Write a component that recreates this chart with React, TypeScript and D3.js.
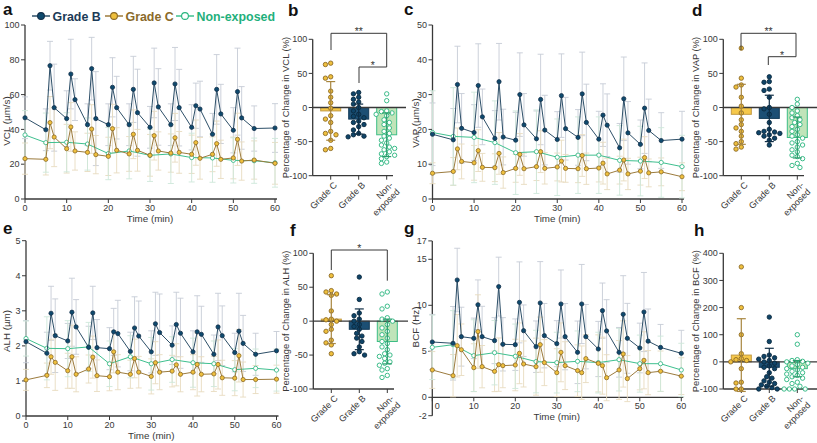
import React from "react";
import * as d3 from "d3";

// ---------- time-course data ----------
const times = [0, 5, 6, 7, 10, 11, 12, 15, 16, 17, 20, 21, 22, 25, 26, 27, 30, 31, 32, 35, 36, 37, 40, 41, 42, 45, 46, 47, 50, 51, 52, 55, 60];
const timesNE = [0, 5, 10, 15, 20, 25, 30, 35, 40, 45, 50, 55, 60];
const xTicks = [0, 10, 20, 30, 40, 50, 60];

const vclB = [46.7, 39.8, 76.6, 52.5, 46.2, 71.8, 57.1, 42.7, 74.9, 46.2, 42.7, 64.2, 52.5, 42.7, 63.0, 49.6, 41.2, 66.7, 52.9, 42.7, 66.1, 52.5, 41.2, 53.6, 51.7, 37.2, 63.0, 48.9, 39.5, 61.7, 46.6, 40.5, 40.8];
const vclBsd = [12, 12, 14, 25, 16, 20, 12, 12, 18, 27, 12, 17, 18, 12, 19, 25, 12, 20, 22, 12, 21, 22, 13, 13, 16, 12, 20, 17, 13, 25, 18, 13, 14];
const vclC = [23.2, 22.8, 43.9, 35.6, 28.9, 41.4, 27.6, 26.8, 40.2, 25.5, 24.5, 40.4, 28.0, 25.9, 37.2, 28.0, 25.1, 36.4, 27.6, 26.4, 35.2, 26.8, 25.7, 32.4, 23.4, 25.7, 31.8, 22.8, 23.6, 34.3, 21.8, 22.4, 20.5];
const vclCsd = [9, 9, 15, 17, 14, 14, 11, 11, 14, 11, 11, 14, 13, 10, 14, 12, 12, 14, 11, 11, 14, 12, 11, 13, 12, 10, 13, 11, 12, 15, 11, 11, 12];
const vclN = [36.8, 32.4, 32.6, 31.6, 26.1, 27.6, 25.1, 25.9, 23.8, 23.6, 22.2, 22.0, 20.8];
const vclNsd = [14, 17, 17, 15, 15, 16, 15, 17, 14, 14, 13, 13, 14];

const vapB = [18.6, 17.0, 32.9, 20.3, 19.1, 32.6, 23.6, 17.4, 33.7, 17.8, 16.9, 30.0, 21.3, 17.3, 28.6, 19.8, 17.1, 29.7, 20.2, 17.7, 30.2, 22.0, 17.2, 24.1, 21.2, 14.7, 28.8, 19.0, 15.7, 26.1, 19.7, 16.8, 17.2];
const vapBsd = [9, 9, 11, 10, 8, 12, 8, 8, 11, 8, 8, 12, 9, 8, 13, 10, 8, 12, 9, 8, 12, 11, 8, 9, 9, 7, 12, 9, 7, 13, 9, 8, 8];
const vapC = [7.4, 7.9, 14.4, 10.8, 10.4, 13.9, 9.1, 9.0, 13.1, 7.6, 8.8, 12.8, 8.7, 9.3, 13.6, 8.8, 9.2, 10.9, 8.8, 8.7, 12.5, 8.7, 8.9, 10.3, 7.2, 8.3, 11.2, 7.2, 8.0, 11.9, 7.5, 7.8, 6.4];
const vapCsd = [3, 4, 6, 5, 5, 6, 4, 4, 6, 4.5, 4, 6, 4.5, 4, 6, 4.5, 4, 6, 4, 4, 6, 4.5, 4, 6, 4.5, 4, 6, 4.5, 4, 6, 4, 4, 4];
const vapN = [19.1, 18.0, 17.7, 16.2, 13.3, 13.6, 12.0, 12.6, 12.6, 11.1, 10.9, 10.5, 9.3];
const vapNsd = [12, 14, 13, 12, 12, 12, 11, 11, 11, 10, 10, 10, 9];

const alhB = [2.12, 1.79, 2.93, 2.29, 2.14, 2.96, 2.54, 1.96, 2.94, 1.95, 1.92, 2.40, 2.35, 1.84, 2.51, 2.28, 1.83, 2.63, 2.38, 2.02, 2.61, 2.36, 1.83, 2.40, 2.33, 1.76, 2.54, 2.29, 1.81, 2.42, 2.07, 1.76, 1.86];
const alhBsd = [0.6, 0.6, 0.77, 1.05, 0.5, 0.97, 0.78, 0.6, 0.76, 0.8, 0.6, 0.67, 0.95, 0.55, 0.89, 1.0, 0.6, 0.9, 1.1, 0.55, 0.92, 1.0, 0.6, 1.03, 0.8, 0.55, 0.96, 0.85, 0.55, 1.08, 0.8, 0.6, 0.55];
const alhC = [1.03, 1.16, 1.69, 1.53, 1.29, 1.69, 1.19, 1.34, 1.68, 1.15, 1.12, 1.83, 1.25, 1.19, 1.64, 1.25, 1.13, 1.52, 1.25, 1.28, 1.46, 1.19, 1.25, 1.47, 1.19, 1.20, 1.47, 1.09, 1.08, 1.72, 1.04, 1.04, 1.05];
const alhCsd = [0.3, 0.35, 0.5, 0.8, 0.5, 0.9, 0.5, 0.4, 0.6, 0.45, 0.4, 0.6, 0.5, 0.4, 0.55, 0.45, 0.5, 0.6, 0.5, 0.45, 0.6, 0.5, 0.5, 0.9, 0.5, 0.5, 0.7, 0.5, 0.5, 0.75, 0.5, 0.4, 0.4];
const alhN = [2.21, 1.93, 1.92, 1.97, 1.49, 1.69, 1.49, 1.61, 1.52, 1.49, 1.32, 1.36, 1.31];
const alhNsd = [0.5, 0.9, 0.8, 0.7, 0.65, 0.6, 0.75, 0.65, 0.7, 0.65, 0.6, 0.55, 0.6];

const bcfB = [6.01, 5.87, 12.75, 6.59, 6.41, 10.06, 6.59, 6.16, 12.03, 5.76, 5.72, 10.32, 7.24, 5.50, 10.25, 6.70, 5.83, 10.14, 6.59, 4.89, 10.14, 6.59, 5.25, 9.42, 7.21, 4.89, 9.02, 6.41, 5.36, 9.27, 6.1, 5.42, 4.78];
const bcfBsd = [3, 4, 3.45, 3.2, 2.2, 2.7, 3.3, 2.5, 3.2, 2.9, 2.8, 4.4, 2.8, 2.8, 4.5, 3.5, 2.5, 3.7, 3.6, 3.4, 4.3, 3.5, 3.0, 3.0, 3.4, 2.7, 4.2, 3.8, 2.7, 4.3, 3.5, 2.5, 2.5];
const bcfC = [2.97, 2.35, 5.61, 5.17, 3.22, 7.14, 3.33, 2.82, 3.55, 3.44, 3.51, 4.78, 3.62, 3.33, 5.72, 3.77, 2.68, 4.89, 3.44, 2.90, 2.68, 4.20, 3.69, 3.44, 2.13, 2.97, 4.71, 2.03, 3.11, 4.02, 2.68, 2.83, 2.3];
const bcfCsd = [2, 2.3, 3.4, 2.8, 2.6, 4.0, 2.3, 2.2, 2.9, 2.4, 2.8, 3.3, 2.5, 3.1, 3.0, 2.5, 2.6, 3.2, 2.6, 2.8, 2.9, 2.6, 3.1, 3.1, 2.5, 3.2, 3.6, 2.5, 2.3, 3.1, 2.4, 2.2, 2.0];
const bcfN = [5.43, 5.72, 4.53, 4.85, 4.46, 3.88, 3.77, 3.91, 3.77, 4.09, 3.66, 3.65, 2.97];
const bcfNsd = [3.5, 3.7, 3.9, 3.5, 3.5, 3.4, 3.3, 3.3, 3.3, 3.4, 3.1, 3.0, 2.9];

// ---------- percentage-change data ----------
const categories = ["Grade C", "Grade B", "Non-exposed"];
const categoryLines = [["Grade C"], ["Grade B"], ["Non-", "exposed"]];

const vclPctC = [65, 63, 45, 43, 24, 15, 7, -1, -12, -17, -22, -35, -38, -40, -48, -60, -62];
const vclPctB = [22, 20, 15, 12, 8, 5, 0, -5, -10, -13, -15, -20, -22, -25, -28, -33, -38, -40, -42, -43];
const vclPctN = [20, 10, -5, -6, -8, -10, -12, -18, -22, -25, -30, -35, -38, -42, -45, -48, -52, -55, -58, -60, -62, -65, -68, -70, -72, -75, -80, -82];
const vclPctMean = [-5, -17, -40];
const vclPctSd = [43, 22, 32];

const vapPctC = [87, 43, 33, 30, 15, 2, -8, -18, -25, -30, -35, -42, -50, -53, -58, -61];
const vapPctB = [45, 38, 37, 27, 25, 15, 0, -2, -10, -22, -32, -35, -36, -37, -38, -40, -42, -45, -48, -55];
const vapPctN = [12, 5, 0, -5, -8, -12, -15, -18, -22, -25, -28, -32, -35, -40, -42, -45, -50, -52, -55, -58, -62, -65, -70, -72, -75, -82, -85, -88];
const vapPctMean = [-10, -16, -44];
const vapPctSd = [44, 34, 30];

const alhPctC = [67, 45, 43, 40, 38, 15, 3, 2, 0, -5, -12, -15, -28, -32, -35, -48];
const alhPctB = [65, 32, 12, 8, 3, 0, -5, -8, -12, -18, -22, -25, -30, -38, -45, -48, -50];
const alhPctN = [43, 40, 22, 18, 5, 3, 0, -5, -10, -15, -20, -25, -30, -33, -38, -42, -48, -50, -52, -55, -60, -62, -65, -70, -72, -80, -83];
const alhPctMean = [3, -12, -30];
const alhPctSd = [36, 30, 33];

const bcfPctC = [350, 200, 100, 30, 12, 8, 5, 0, -25, -75, -78, -100, -100];
const bcfPctB = [165, 75, 25, 20, 15, 10, 5, 0, -5, -15, -20, -25, -40, -55, -60, -70, -75, -80, -85, -90, -95, -100, -100];
const bcfPctN = [100, 65, 8, 5, 2, 0, -5, -10, -15, -20, -25, -30, -35, -40, -45, -50, -55, -60, -65, -75, -80, -90, -100, -100, -100, -100];
const bcfPctMean = [25, -20, -25];
const bcfPctSd = [134, 70, 30];

// ---------- styles ----------
const FONT = "Arial, 'Liberation Sans', Helvetica, sans-serif";
const INK = "#383838";
const TICK_FS = 9;

const STY = {
  B: { line: "#2d4f68", fill: "#0e4a6e", stroke: "#14304a", err: "#c6ccd6", text: "#1b3a57" },
  C: { line: "#9c7b3d", fill: "#efc03d", stroke: "#8c6a26", err: "#e8dbc0", text: "#8a6a2a" },
  N: { line: "#3fc08f", fill: "#ffffff", stroke: "#27b47d", err: "#cee8da", text: "#1fb07c" },
};
const BAR = [
  { fill: "#f6c84a", stroke: "#c39a43", err: "#a8863f", pt: "#efc03d", ptStroke: "#8c6a26" },
  { fill: "#1c4f74", stroke: "#123a58", err: "#0f2d45", pt: "#0f4468", ptStroke: "#0b2a40" },
  { fill: "#c0e4b9", stroke: "#3dbd85", err: "#2a9c6c", pt: "#ffffff", ptStroke: "#27b47d" },
];

type Series = { t: number[]; v: number[]; sd: number[]; s: typeof STY.B };

function LinePanel(props: {
  xr: [number, number];
  yr: [number, number];
  domain: [number, number];
  yticks: number[];
  xAxisAt: number;
  ylabel: string;
  ylabelX: number;
  ylabelY: number;
  zeroDx?: number;
  series: Series[];
}) {
  const { xr, yr, domain, yticks, xAxisAt, ylabel, ylabelX, ylabelY, zeroDx = 0, series } = props;
  const x = d3.scaleLinear().domain([0, 60]).range(xr);
  const y = d3.scaleLinear().domain(domain).range(yr);
  const y0 = y(xAxisAt);
  const line = d3
    .line<[number, number]>()
    .x((d) => x(d[0]))
    .y((d) => y(d[1]));
  const errOrder = [series[2], series[1], series[0]];
  return (
    <g fontFamily={FONT}>
      <line x1={xr[0]} x2={xr[0]} y1={y(domain[0])} y2={y(domain[1])} stroke={INK} strokeWidth={1.3} />
      <line x1={xr[0]} x2={xr[1] + 2} y1={y0} y2={y0} stroke={INK} strokeWidth={1.3} />
      {yticks.map((t) => (
        <g key={"y" + t}>
          <line x1={xr[0] - 4} x2={xr[0]} y1={y(t)} y2={y(t)} stroke={INK} strokeWidth={1} />
          <text x={xr[0] - 5.5} y={y(t)} dy="0.35em" textAnchor="end" fontSize={TICK_FS} fill={INK}>
            {t}
          </text>
        </g>
      ))}
      {xTicks.map((t) => (
        <g key={"x" + t}>
          <line x1={x(t)} x2={x(t)} y1={y0} y2={y0 + 4} stroke={INK} strokeWidth={1} />
          <text x={x(t) + (t === 0 ? zeroDx : 0)} y={y0 + 11.5} textAnchor="middle" fontSize={TICK_FS} fill={INK}>
            {t}
          </text>
        </g>
      ))}
      <text x={(xr[0] + xr[1]) / 2} y={y0 + 23} textAnchor="middle" fontSize={9.8} fill={INK}>
        Time (min)
      </text>
      <text transform={`translate(${ylabelX},${ylabelY}) rotate(-90)`} textAnchor="middle" fontSize={9.8} fill={INK}>
        {ylabel}
      </text>
      {errOrder.map((s, si) =>
        s.t.map((t, i) => {
          const cx = x(t);
          const lo = y(s.v[i] - s.sd[i]);
          const hi = y(s.v[i] + s.sd[i]);
          return (
            <g key={`e${si}-${i}`} stroke={s.s.err} strokeWidth={0.9}>
              <line x1={cx} x2={cx} y1={lo} y2={hi} />
              <line x1={cx - 3} x2={cx + 3} y1={lo} y2={lo} />
              <line x1={cx - 3} x2={cx + 3} y1={hi} y2={hi} />
            </g>
          );
        })
      )}
      {series.map((s, si) => (
        <g key={"s" + si}>
          <path d={line(s.t.map((t, i) => [t, s.v[i]] as [number, number])) || ""} fill="none" stroke={s.s.line} strokeWidth={1} />
          {s.t.map((t, i) => (
            <circle key={i} cx={x(t)} cy={y(s.v[i])} r={2.1} fill={s.s.fill} stroke={s.s.stroke} strokeWidth={0.8} />
          ))}
        </g>
      ))}
    </g>
  );
}

function swarm(vals: number[], ys: (v: number) => number, cx: number, r: number) {
  const placed: { x: number; y: number }[] = [];
  const sorted = vals.slice().sort((a, b) => b - a);
  const offs = [0, -1, 1, -2, 2, -3, 3, -4, 4, -5, 5];
  for (const v of sorted) {
    const yy = ys(v);
    let px = cx;
    for (const o of offs) {
      const cand = cx + o * r * 1.2;
      if (placed.every((q) => Math.hypot(q.x - cand, q.y - yy) >= 2 * r)) {
        px = cand;
        break;
      }
    }
    placed.push({ x: px, y: yy });
  }
  return placed;
}

type Bracket = { x1: number; x2: number; y: number; l1: number; l2: number; label: string };

function BarPanel(props: {
  ax: number;
  domain: [number, number];
  yr: [number, number];
  yticks: number[];
  ylabel: string;
  means: number[];
  sds: number[];
  pts: number[][];
  zeroEnd: number;
  bottomEnd: number;
  brackets: Bracket[];
}) {
  const { ax, domain, yr, yticks, ylabel, means, sds, pts, zeroEnd, bottomEnd, brackets } = props;
  const y = d3.scaleLinear().domain(domain).range(yr);
  const x = d3.scalePoint<string>().domain(categories).range([ax + 18, ax + 74]);
  const bottom = y(domain[0]);
  const mid = (yr[0] + yr[1]) / 2;
  return (
    <g fontFamily={FONT}>
      <line x1={ax} x2={ax} y1={y(domain[0])} y2={y(domain[1])} stroke={INK} strokeWidth={1.3} />
      <line x1={ax} x2={bottomEnd} y1={bottom} y2={bottom} stroke={INK} strokeWidth={1.3} />
      {yticks.map((t) => (
        <g key={t}>
          <line x1={ax - 4} x2={ax} y1={y(t)} y2={y(t)} stroke={INK} strokeWidth={1} />
          <text x={ax - 5.5} y={y(t)} dy="0.35em" textAnchor="end" fontSize={TICK_FS} fill={INK}>
            {t}
          </text>
        </g>
      ))}
      <text transform={`translate(${ax - 24},${mid}) rotate(-90)`} textAnchor="middle" fontSize={9.4} fill={INK}>
        {ylabel}
      </text>
      {categories.map((c, i) => {
        const cx = x(c) as number;
        return (
          <g key={c}>
            <line x1={cx} x2={cx} y1={bottom} y2={bottom + 4} stroke={INK} strokeWidth={1} />
            <text transform={`translate(${cx + 7},${bottom + 10}) rotate(-45)`} textAnchor="end" fontSize={TICK_FS} fill={INK}>
              {categoryLines[i].map((ln, k) => (
                <tspan key={k} x={0} dy={k === 0 ? 0 : "1.05em"}>
                  {ln}
                </tspan>
              ))}
            </text>
          </g>
        );
      })}
      {categories.map((c, i) => {
        const cx = x(c) as number;
        const top = Math.min(y(0), y(means[i]));
        const h = Math.abs(y(0) - y(means[i]));
        return <rect key={"b" + c} x={cx - 10} y={top} width={20} height={h} fill={BAR[i].fill} stroke={BAR[i].stroke} strokeWidth={1} />;
      })}
      <line x1={ax} x2={zeroEnd} y1={y(0)} y2={y(0)} stroke={INK} strokeWidth={1.3} />
      {categories.map((c, i) => {
        const cx = x(c) as number;
        return (
          <g key={"p" + c}>
            {swarm(pts[i], (v) => y(v), cx, 2.2).map((p, k) => (
              <circle key={k} cx={p.x} cy={p.y} r={2.2} fill={BAR[i].pt} stroke={BAR[i].ptStroke} strokeWidth={0.9} />
            ))}
          </g>
        );
      })}
      {categories.map((c, i) => {
        const cx = x(c) as number;
        const lo = y(means[i] - sds[i]);
        const hi = y(means[i] + sds[i]);
        return (
          <g key={"e" + c} stroke={BAR[i].err} strokeWidth={1.2}>
            <line x1={cx} x2={cx} y1={lo} y2={hi} />
            <line x1={cx - 4.5} x2={cx + 4.5} y1={lo} y2={lo} />
            <line x1={cx - 4.5} x2={cx + 4.5} y1={hi} y2={hi} />
          </g>
        );
      })}
      {brackets.map((b, k) => (
        <g key={"k" + k}>
          <path d={`M${b.x1},${b.l1} V${b.y} H${b.x2} V${b.l2}`} fill="none" stroke={INK} strokeWidth={1} />
          <text x={(b.x1 + b.x2) / 2} y={b.y + 2} textAnchor="middle" fontSize={10.5} fill={INK}>
            {b.label}
          </text>
        </g>
      ))}
    </g>
  );
}

function Legend() {
  const items = [
    { name: "Grade B", s: STY.B, x: 32 },
    { name: "Grade C", s: STY.C, x: 105 },
    { name: "Non-exposed", s: STY.N, x: 176 },
  ];
  return (
    <g fontFamily={FONT}>
      {items.map((it) => (
        <g key={it.name}>
          <line x1={it.x} x2={it.x + 18} y1={16} y2={16} stroke={it.s.line} strokeWidth={1.5} />
          <circle cx={it.x + 9} cy={16} r={3.4} fill={it.s.fill} stroke={it.s.stroke} strokeWidth={1.1} />
          <text x={it.x + 20.5} y={20.5} fontSize={12.4} fontWeight="bold" fill={it.s.text}>
            {it.name}
          </text>
        </g>
      ))}
    </g>
  );
}

const letters = [
  { t: "a", x: 3, y: 15 },
  { t: "b", x: 288, y: 16 },
  { t: "c", x: 404, y: 15 },
  { t: "d", x: 692, y: 16 },
  { t: "e", x: 3, y: 234 },
  { t: "f", x: 290, y: 236 },
  { t: "g", x: 404, y: 234 },
  { t: "h", x: 694, y: 236 },
];

export default function App() {
  const pctTicks = [-100, -50, 0, 50, 100];
  return (
    <svg width={817} height={443} style={{ position: "absolute", left: 0, top: 0, background: "#fff" }}>
      <rect width={817} height={443} fill="#fff" />
      <LinePanel
        xr={[25, 275]}
        yr={[199, 25]}
        domain={[0, 100]}
        yticks={[0, 20, 40, 60, 80, 100]}
        xAxisAt={0}
        ylabel="VCL (µm/s)"
        ylabelX={10}
        ylabelY={121}
        series={[
          { t: timesNE, v: vclN, sd: vclNsd, s: STY.N },
          { t: times, v: vclC, sd: vclCsd, s: STY.C },
          { t: times, v: vclB, sd: vclBsd, s: STY.B },
        ]}
      />
      <LinePanel
        xr={[432.5, 682]}
        yr={[199, 25]}
        domain={[0, 50]}
        yticks={[0, 10, 20, 30, 40, 50]}
        xAxisAt={0}
        ylabel="VAP (µm/s)"
        ylabelX={419}
        ylabelY={123}
        series={[
          { t: timesNE, v: vapN, sd: vapNsd, s: STY.N },
          { t: times, v: vapC, sd: vapCsd, s: STY.C },
          { t: times, v: vapB, sd: vapBsd, s: STY.B },
        ]}
      />
      <LinePanel
        xr={[26, 276.5]}
        yr={[416, 240.7]}
        domain={[0, 5]}
        yticks={[0, 1, 2, 3, 4, 5]}
        xAxisAt={0}
        ylabel="ALH (µm)"
        ylabelX={10}
        ylabelY={331}
        series={[
          { t: timesNE, v: alhN, sd: alhNsd, s: STY.N },
          { t: times, v: alhC, sd: alhCsd, s: STY.C },
          { t: times, v: alhB, sd: alhBsd, s: STY.B },
        ]}
      />
      <LinePanel
        xr={[432.3, 681.3]}
        yr={[415.7, 240.9]}
        domain={[-2, 17]}
        yticks={[-2, 0, 5, 10, 15, 17]}
        xAxisAt={0}
        zeroDx={5}
        ylabel="BCF (Hz)"
        ylabelX={419}
        ylabelY={327}
        series={[
          { t: timesNE, v: bcfN, sd: bcfNsd, s: STY.N },
          { t: times, v: bcfC, sd: bcfCsd, s: STY.C },
          { t: times, v: bcfB, sd: bcfBsd, s: STY.B },
        ]}
      />
      <BarPanel
        ax={312.7}
        domain={[-100, 100]}
        yr={[175.7, 39.3]}
        yticks={pctTicks}
        ylabel="Percentage of Change in VCL (%)"
        means={vclPctMean}
        sds={vclPctSd}
        pts={[vclPctC, vclPctB, vclPctN]}
        zeroEnd={406}
        bottomEnd={393}
        brackets={[
          { x1: 331, x2: 386.7, y: 33.3, l1: 50, l2: 67, label: "**" },
          { x1: 359, x2: 386.7, y: 67, l1: 83, l2: 67, label: "*" },
        ]}
      />
      <BarPanel
        ax={723.3}
        domain={[-100, 100]}
        yr={[175.7, 39.3]}
        yticks={pctTicks}
        ylabel="Percentage of Change in VAP (%)"
        means={vapPctMean}
        sds={vapPctSd}
        pts={[vapPctC, vapPctB, vapPctN]}
        zeroEnd={817}
        bottomEnd={804}
        brackets={[
          { x1: 741, x2: 796, y: 33.3, l1: 50, l2: 56.7, label: "**" },
          { x1: 768.3, x2: 796, y: 56.7, l1: 65, l2: 56.7, label: "*" },
        ]}
      />
      <BarPanel
        ax={313.3}
        domain={[-100, 100]}
        yr={[389, 253.3]}
        yticks={pctTicks}
        ylabel="Percentage of Change in ALH (%)"
        means={alhPctMean}
        sds={alhPctSd}
        pts={[alhPctC, alhPctB, alhPctN]}
        zeroEnd={408}
        bottomEnd={394}
        brackets={[{ x1: 331.3, x2: 387.3, y: 250, l1: 270, l2: 280.7, label: "*" }]}
      />
      <BarPanel
        ax={723.3}
        domain={[-100, 400]}
        yr={[389, 253.3]}
        yticks={[-100, 0, 100, 200, 300, 400]}
        ylabel="Percentage of Change in BCF (%)"
        means={bcfPctMean}
        sds={bcfPctSd}
        pts={[bcfPctC, bcfPctB, bcfPctN]}
        zeroEnd={817}
        bottomEnd={817}
        brackets={[]}
      />
      <Legend />
      {letters.map((l) => (
        <text key={l.t} x={l.x} y={l.y} fontFamily={FONT} fontSize={17} fontWeight="bold" fill="#111">
          {l.t}
        </text>
      ))}
    </svg>
  );
}
